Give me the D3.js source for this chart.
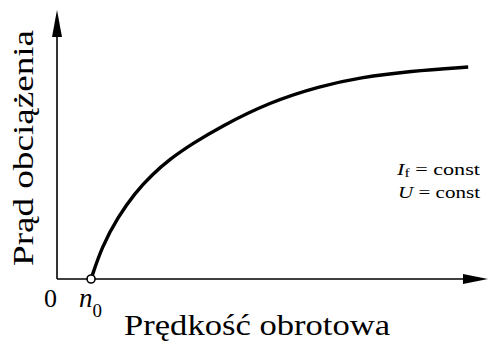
<!DOCTYPE html>
<html>
<head>
<meta charset="utf-8">
<script src="https://cdn.jsdelivr.net/npm/d3@7/dist/d3.min.js"></script>
<style>
  html, body { margin: 0; padding: 0; background: #fff; }
  svg { display: block; }
</style>
</head>
<body>
<svg id="chart" width="489" height="347"></svg>
<script>
// Load current vs. rotational speed (relative units)
const speed   = [7.9, 10.4, 14.2, 18.1, 22.0, 26.2, 31.3, 37.8, 49.4, 61.0, 70.3, 81.9, 95.4];
const current = [0,   12.0, 23.2, 32.0, 38.7, 44.6, 50.2, 56.5, 65.8, 71.7, 74.9, 77.3, 78.8];
const n0 = 7.9;

const xLabel = "Prędkość obrotowa";
const yLabel = "Prąd obciążenia";

const serif = "'Liberation Serif', 'Times New Roman', Times, serif";

const svg = d3.select("#chart");
const x = d3.scaleLinear().domain([0, 100]).range([57, 488]);
const y = d3.scaleLinear().domain([0, 100]).range([279, 10]);

// axes with arrowheads
svg.append("line")
  .attr("x1", x(0)).attr("y1", y(0)).attr("x2", x(0)).attr("y2", y(90))
  .attr("stroke", "#000").attr("stroke-width", 1.6);
svg.append("line")
  .attr("x1", x(0)).attr("y1", y(0)).attr("x2", x(95)).attr("y2", y(0))
  .attr("stroke", "#000").attr("stroke-width", 1.6);
svg.append("path")
  .attr("d", `M${x(0)},${y(100)} L${x(0) - 5},${y(100) + 27} L${x(0) + 5},${y(100) + 27} Z`)
  .attr("fill", "#000");
svg.append("path")
  .attr("d", `M${x(100)},${y(0)} L${x(100) - 25},${y(0) - 5} L${x(100) - 25},${y(0) + 5} Z`)
  .attr("fill", "#000");

// characteristic curve
const line = d3.line()
  .x((d, i) => x(speed[i]))
  .y(d => y(d))
  .curve(d3.curveBasis);
svg.append("path")
  .datum(current)
  .attr("d", line)
  .attr("fill", "none")
  .attr("stroke", "#000")
  .attr("stroke-width", 3.4);

// starting point n0
svg.append("circle")
  .attr("cx", x(n0)).attr("cy", y(0)).attr("r", 4)
  .attr("fill", "#fff").attr("stroke", "#000").attr("stroke-width", 1.6);

function label(sel) {
  return sel.append("text").attr("font-family", serif).attr("fill", "#000");
}

// axis labels
label(svg).attr("x", 44).attr("y", 307).attr("font-size", 26).text("0");
const n0t = label(svg).attr("x", 79).attr("y", 307).attr("font-size", 27);
n0t.append("tspan").attr("font-style", "italic").text("n");
n0t.append("tspan").attr("dy", 10).attr("font-size", 19).text("0");

label(svg)
  .attr("x", 124).attr("y", 335)
  .attr("font-size", 30)
  .attr("textLength", 266)
  .attr("lengthAdjust", "spacingAndGlyphs")
  .text(xLabel);

label(svg)
  .attr("transform", "translate(33,148) rotate(-90)")
  .attr("text-anchor", "middle")
  .attr("font-size", 30)
  .attr("textLength", 236)
  .attr("lengthAdjust", "spacingAndGlyphs")
  .text(yLabel);

// operating conditions
const c1 = label(svg).attr("x", 397).attr("y", 175).attr("font-size", 17)
  .attr("textLength", 83).attr("lengthAdjust", "spacingAndGlyphs");
c1.append("tspan").attr("font-style", "italic").text("I");
c1.append("tspan").attr("dy", 2).attr("font-size", 12).text("f");
c1.append("tspan").attr("dy", -2).text(" = const");

const c2 = label(svg).attr("x", 398).attr("y", 198).attr("font-size", 17)
  .attr("textLength", 82).attr("lengthAdjust", "spacingAndGlyphs");
c2.append("tspan").attr("font-style", "italic").text("U");
c2.append("tspan").text(" = const");
</script>
</body>
</html>
